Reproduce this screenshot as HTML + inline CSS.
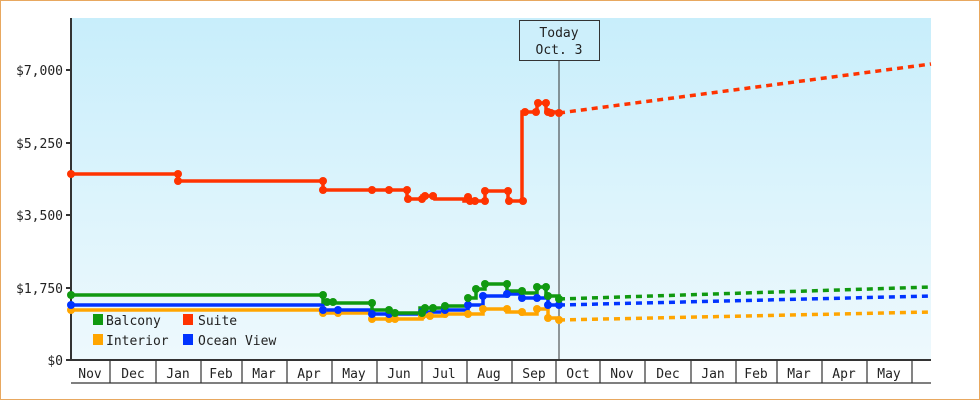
<!DOCTYPE html>
<html><head><style>body{margin:0;background:#fff}svg{display:block}text{font-family:"DejaVu Sans Mono","Liberation Mono",monospace;font-size:13px;fill:#222}</style></head><body>
<svg width="980" height="400" viewBox="0 0 980 400">
<defs><linearGradient id="g" x1="0" y1="0" x2="0" y2="1"><stop offset="0" stop-color="#c8eefb"/><stop offset="1" stop-color="#eef9fd"/></linearGradient></defs>
<rect x="0.5" y="0.5" width="979" height="399" fill="#fff" stroke="#e8a860"/>
<rect x="71" y="18" width="860" height="342" fill="url(#g)"/>
<g stroke="#333" stroke-width="2"><line x1="71" y1="18" x2="71" y2="361"/><line x1="70" y1="360" x2="931" y2="360"/>
<line x1="66" y1="70" x2="71" y2="70"/><line x1="66" y1="143" x2="71" y2="143"/><line x1="66" y1="215" x2="71" y2="215"/><line x1="66" y1="288" x2="71" y2="288"/><line x1="66" y1="360" x2="71" y2="360"/></g>
<g text-anchor="end"><text x="63" y="75">$7,000</text><text x="63" y="148">$5,250</text><text x="63" y="220">$3,500</text><text x="63" y="293">$1,750</text><text x="63" y="365">$0</text></g>
<g stroke="#333" stroke-width="1.2" fill="none"><line x1="71" y1="383" x2="931" y2="383"/>
<path d="M110 360V383M156 360V383M201 360V383M242 360V383M287 360V383M332 360V383M377 360V383M422 360V383M467 360V383M512 360V383M556 360V383M600 360V383M645 360V383M691 360V383M736 360V383M777 360V383M822 360V383M867 360V383M912 360V383"/></g>
<g text-anchor="middle"><text x="90" y="378">Nov</text><text x="133" y="378">Dec</text><text x="178" y="378">Jan</text><text x="221" y="378">Feb</text><text x="264" y="378">Mar</text><text x="309" y="378">Apr</text><text x="354" y="378">May</text><text x="399" y="378">Jun</text><text x="444" y="378">Jul</text><text x="489" y="378">Aug</text><text x="534" y="378">Sep</text><text x="578" y="378">Oct</text><text x="622" y="378">Nov</text><text x="668" y="378">Dec</text><text x="713" y="378">Jan</text><text x="756" y="378">Feb</text><text x="799" y="378">Mar</text><text x="844" y="378">Apr</text><text x="889" y="378">May</text></g>
<line x1="559" y1="60" x2="559" y2="360" stroke="#333" stroke-width="1"/>
<rect x="519.5" y="20.5" width="80" height="40" fill="#cdeffb" stroke="#333"/>
<text x="559" y="37" text-anchor="middle">Today</text><text x="559" y="54" text-anchor="middle">Oct. 3</text>
<g fill="none" stroke-width="3.5" stroke-dasharray="6 5">
<path d="M559 113L931 64" stroke="#ff3300"/><path d="M559 299L931 287" stroke="#109910"/><path d="M559 305L931 296" stroke="#0033ff"/><path d="M559 320L931 312" stroke="#ffa500"/></g>
<g fill="none" stroke-width="3.5">
<path id="i" d="M71 310H323V313H372V319H422V316H445V314H483V309H507V312H522V314H537V309H548V318H559V320" stroke="#ffa500"/>
<path id="o" d="M71 305H323V310H372V314H422V312H445V310H468V305H483V296H507V294H522V298H548V305H559" stroke="#0033ff"/>
<path id="b" d="M71 295H323V302H333V303H372V310H389V313H420V308H445V306H468V298H476V289H485V284H507V291H522V293H537V287H546V296H559V299" stroke="#109910"/>
<path id="s" d="M71 174H178V181H323V190H407V199H422V196H435V199H464V201H485V191H508V201H522V112H537V103H546V112H559V113" stroke="#ff3300"/></g>
<g fill="#ffa500"><circle cx="71" cy="310" r="4"/><circle cx="323" cy="310" r="4"/><circle cx="323" cy="313" r="4"/><circle cx="338" cy="313" r="4"/><circle cx="372" cy="319" r="4"/><circle cx="389" cy="319" r="4"/><circle cx="395" cy="319" r="4"/><circle cx="422" cy="316" r="4"/><circle cx="430" cy="316" r="4"/><circle cx="445" cy="314" r="4"/><circle cx="468" cy="314" r="4"/><circle cx="483" cy="309" r="4"/><circle cx="507" cy="309" r="4"/><circle cx="522" cy="312" r="4"/><circle cx="537" cy="309" r="4"/><circle cx="548" cy="318" r="4"/><circle cx="559" cy="320" r="4"/></g>
<g fill="#0033ff"><circle cx="71" cy="305" r="4"/><circle cx="323" cy="310" r="4"/><circle cx="338" cy="310" r="4"/><circle cx="372" cy="314" r="4"/><circle cx="389" cy="314" r="4"/><circle cx="422" cy="312" r="4"/><circle cx="445" cy="310" r="4"/><circle cx="468" cy="305" r="4"/><circle cx="483" cy="296" r="4"/><circle cx="507" cy="294" r="4"/><circle cx="522" cy="298" r="4"/><circle cx="537" cy="298" r="4"/><circle cx="548" cy="305" r="4"/><circle cx="559" cy="305" r="4"/></g>
<g fill="#109910"><circle cx="71" cy="295" r="4"/><circle cx="323" cy="295" r="4"/><circle cx="327" cy="302" r="4"/><circle cx="333" cy="302" r="4"/><circle cx="372" cy="303" r="4"/><circle cx="389" cy="310" r="4"/><circle cx="395" cy="313" r="4"/><circle cx="422" cy="313" r="4"/><circle cx="425" cy="308" r="4"/><circle cx="433" cy="308" r="4"/><circle cx="445" cy="306" r="4"/><circle cx="468" cy="298" r="4"/><circle cx="476" cy="289" r="4"/><circle cx="485" cy="284" r="4"/><circle cx="507" cy="284" r="4"/><circle cx="522" cy="291" r="4"/><circle cx="537" cy="287" r="4"/><circle cx="546" cy="287" r="4"/><circle cx="548" cy="296" r="4"/><circle cx="559" cy="299" r="4"/></g>
<g fill="#ff3300"><circle cx="71" cy="174" r="4"/><circle cx="178" cy="174" r="4"/><circle cx="178" cy="181" r="4"/><circle cx="323" cy="181" r="4"/><circle cx="323" cy="190" r="4"/><circle cx="372" cy="190" r="4"/><circle cx="389" cy="190" r="4"/><circle cx="407" cy="190" r="4"/><circle cx="408" cy="199" r="4"/><circle cx="422" cy="199" r="4"/><circle cx="425" cy="196" r="4"/><circle cx="433" cy="196" r="4"/><circle cx="468" cy="197" r="4"/><circle cx="470" cy="201" r="4"/><circle cx="475" cy="201" r="4"/><circle cx="485" cy="201" r="4"/><circle cx="485" cy="191" r="4"/><circle cx="508" cy="191" r="4"/><circle cx="509" cy="201" r="4"/><circle cx="523" cy="201" r="4"/><circle cx="525" cy="112" r="4"/><circle cx="536" cy="112" r="4"/><circle cx="538" cy="103" r="4"/><circle cx="546" cy="103" r="4"/><circle cx="548" cy="112" r="4"/><circle cx="551" cy="113" r="4"/><circle cx="559" cy="113" r="4"/></g>
<rect x="93" y="314" width="10" height="11" fill="#109910"/><text x="106" y="325">Balcony</text>
<rect x="183" y="314" width="10" height="11" fill="#ff3300"/><text x="198" y="325">Suite</text>
<rect x="93" y="334" width="10" height="11" fill="#ffa500"/><text x="106" y="345">Interior</text>
<rect x="183" y="334" width="10" height="11" fill="#0033ff"/><text x="198" y="345">Ocean View</text>
</svg>
</body></html>
